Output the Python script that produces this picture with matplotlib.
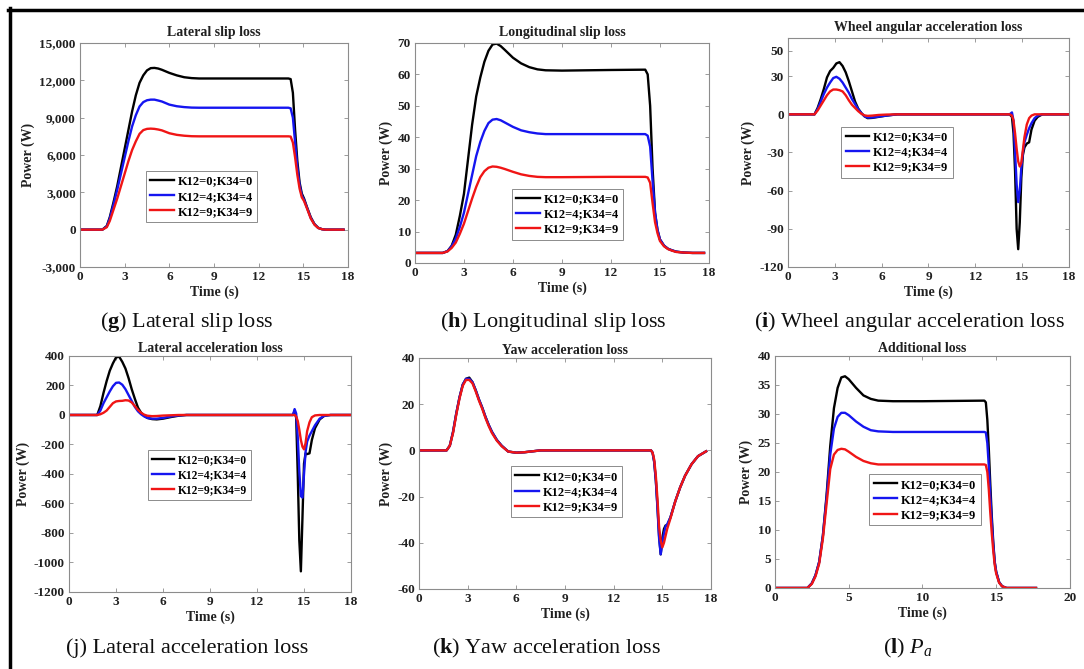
import matplotlib
matplotlib.use("Agg")
import matplotlib.pyplot as plt
from matplotlib.lines import Line2D

# --- fontes ---
plt.rcParams['font.family'] = ['Liberation Serif', 'DejaVu Serif']
plt.rcParams['mathtext.fontset'] = 'custom'
plt.rcParams['mathtext.rm'] = 'Liberation Serif'
plt.rcParams['mathtext.bf'] = 'Liberation Serif:bold'
plt.rcParams['mathtext.it'] = 'Liberation Serif:italic'

legend_labels = ['K12=0;K34=0', 'K12=4;K34=4', 'K12=9;K34=9']
cores = ['#000000', '#1515f0', '#f01515']

# --- (g) Lateral slip loss ---
t_g = [0, 1.5, 1.8, 2.0, 2.25, 2.5, 2.75, 3.0, 3.25, 3.5, 3.75, 4.0, 4.25, 4.5, 4.75, 5.0,
       5.25, 5.5, 6.0, 6.5, 7.0, 7.5, 8.0, 10.0, 12.0, 14.0, 14.15, 14.3, 14.45, 14.6, 14.75,
       14.9, 15.05, 15.25, 15.5, 15.75, 16.0, 16.25, 16.5, 17.0, 17.7]
g_k0 = [0, 0, 300, 1000, 2200, 3500, 5000, 6500, 8000, 9500, 10800, 11800, 12400, 12800, 12980, 13000,
        12950, 12850, 12600, 12400, 12250, 12180, 12150, 12150, 12150, 12150, 12100, 11000, 8000, 5500, 3800,
        2900, 2500, 1800, 1000, 450, 150, 40, 0, 0, 0]
g_k4 = [0, 0, 250, 900, 2000, 3200, 4500, 5800, 7100, 8300, 9200, 9900, 10250, 10400, 10450, 10450,
        10380, 10300, 10050, 9920, 9850, 9810, 9800, 9800, 9800, 9800, 9750, 9000, 7000, 5000, 3600,
        2750, 2400, 1750, 950, 430, 140, 40, 0, 0, 0]
g_k9 = [0, 0, 200, 700, 1600, 2500, 3500, 4500, 5500, 6400, 7100, 7700, 8000, 8100, 8120, 8100,
        8050, 7980, 7750, 7620, 7550, 7510, 7500, 7500, 7500, 7500, 7480, 7000, 5800, 4400, 3300,
        2600, 2300, 1700, 900, 400, 130, 40, 0, 0, 0]

# --- (h) Longitudinal slip loss ---
t_h = [0, 1.7, 2.0, 2.25, 2.5, 2.75, 3.0, 3.25, 3.5, 3.75, 4.0, 4.25, 4.5, 4.75, 5.0, 5.25, 5.5,
       6.0, 6.5, 7.0, 7.5, 8.0, 9.0, 12.0, 14.1, 14.25, 14.4, 14.55, 14.7, 14.85, 15.0, 15.25,
       15.5, 15.75, 16.0, 16.5, 17.0, 17.7]
h_k0 = [3.2, 3.2, 3.8, 5.5, 9, 15, 22, 33, 44, 53, 59, 64, 67.5, 69.5, 69.8, 69, 67.8,
        65.3, 63.5, 62.3, 61.6, 61.3, 61.2, 61.4, 61.5, 60, 50, 30, 16, 10.5, 7.5, 5.5,
        4.5, 4, 3.6, 3.3, 3.2, 3.2]
h_k4 = [3.2, 3.2, 3.8, 5.3, 7.8, 11.5, 16, 22, 28, 34, 38.5, 42, 44.5, 45.6, 45.8, 45.4, 44.7,
        43.3, 42.2, 41.6, 41.2, 41, 41, 41, 41, 40.5, 37, 26, 16, 10.5, 7.5, 5.5,
        4.5, 4, 3.6, 3.3, 3.2, 3.2]
h_k9 = [3.2, 3.2, 3.7, 4.8, 6.5, 9.3, 12.5, 16.5, 20.5, 24.2, 27.3, 29.2, 30.3, 30.7, 30.6, 30.3, 29.9,
        29, 28.2, 27.7, 27.4, 27.3, 27.3, 27.4, 27.4, 27.2, 25.5, 19, 13, 9.5, 7, 5.3,
        4.4, 3.9, 3.5, 3.3, 3.2, 3.2]

# --- (i) Wheel angular acceleration loss ---
t_i = [0, 1.7, 1.9, 2.1, 2.3, 2.5, 2.7, 2.9, 3.1, 3.3, 3.5, 3.7, 3.9, 4.1, 4.3, 4.5, 4.7, 4.9,
       5.1, 5.4, 5.8, 6.3, 7.0, 10, 14.2, 14.35, 14.45, 14.55, 14.65, 14.75, 14.85, 14.95,
       15.05, 15.15, 15.3, 15.45, 15.6, 15.8, 16.0, 16.3, 18]
i_k0 = [0, 0, 5, 12, 20, 29, 34, 36.5, 40, 41, 38, 33, 26, 18, 10, 4.5, 1, -1.5,
        -3, -2.8, -2, -1, 0, 0, 0, -2, -15, -45, -90, -106, -85, -50,
        -32, -26, -23, -22, -12, -5, -2, 0, 0]
i_k4 = [0, 0, 4, 10, 16, 21, 25, 28.5, 29.5, 28, 25, 21, 17, 12, 8, 4, 1, -1.5,
        -2.5, -2.5, -1.8, -1, 0, 0, 0, 1.5, -5, -30, -55, -69, -60, -42,
        -30, -22, -16, -11, -7, -3, -1, 0, 0]
i_k9 = [0, 0, 3, 7, 11, 15, 18, 19.5, 19.5, 19, 18, 15, 11, 7.5, 5, 2.5, 0.5, -0.8,
        -1.2, -1, -0.5, -0.2, 0, 0, 0, -1, -5, -15, -27, -37, -41, -38,
        -28, -18, -8, -3, -1, 0, 0, 0, 0]

# --- (j) Lateral acceleration loss ---
t_j = [0, 1.8, 2.0, 2.2, 2.4, 2.6, 2.8, 3.0, 3.2, 3.4, 3.6, 3.8, 4.0, 4.2, 4.4, 4.6, 4.8, 5.0,
       5.3, 5.6, 6.0, 6.5, 7.0, 7.5, 10, 14.3, 14.4, 14.5, 14.6, 14.7, 14.8, 14.9, 15.0, 15.1,
       15.2, 15.35, 15.5, 15.7, 16.0, 16.3, 16.7, 18]
j_k0 = [0, 0, 60, 150, 230, 300, 350, 390, 395, 360, 315, 250, 175, 110, 50, 15, -5, -20,
        -28, -30, -25, -14, -5, 0, 0, 0, 30, -20, -400, -850, -1060, -700, -330, -260,
        -265, -260, -170, -90, -30, -5, 0, 0]
j_k4 = [0, 0, 30, 80, 120, 160, 195, 218, 220, 205, 175, 135, 95, 55, 25, 5, -10, -20,
        -25, -25, -20, -10, -3, 0, 0, 0, 40, 10, -150, -380, -550, -560, -400, -250,
        -180, -140, -110, -70, -25, -5, 0, 0]
j_k9 = [0, 0, 5, 15, 30, 55, 80, 92, 95, 96, 100, 98, 85, 60, 35, 15, 2, -5,
        -8, -7, -4, -2, 0, 0, 0, 0, 0, -10, -40, -100, -170, -215, -233, -190,
        -110, -50, -15, -3, 0, 0, 0, 0]

# --- (k) Yaw acceleration loss ---
t_k = [0, 1.7, 1.9, 2.1, 2.3, 2.5, 2.7, 2.9, 3.1, 3.3, 3.5, 3.7, 3.9, 4.1, 4.3, 4.5, 4.8, 5.1,
       5.5, 6.0, 6.5, 7.5, 10, 14.3, 14.4, 14.5, 14.6, 14.7, 14.8, 14.9, 15.0, 15.1, 15.2,
       15.3, 15.5, 15.8, 16.1, 16.4, 16.8, 17.2, 17.7]
k_k0 = [0, 0, 2, 8, 16, 23, 28.5, 31, 31.5, 29.5, 26, 22, 18.5, 14.5, 11, 8, 4.5, 2,
        -0.5, -1, -0.8, 0, 0, 0, -1, -5, -13, -24, -37, -45, -38, -34, -32.5,
        -32.5, -29, -22, -16, -11, -6, -2.5, -0.4]
k_k4 = [0, 0, 2, 8, 16, 23, 28.5, 31, 31, 29.5, 26, 22, 18.5, 14.5, 11, 8, 4.5, 2,
        -0.5, -1, -0.8, 0, 0, 0, -1, -5, -13, -25, -38, -45, -40, -36, -33,
        -32, -29, -22, -16, -11, -6, -2.5, -0.4]
k_k9 = [0, 0, 2, 7.5, 15.5, 22.5, 28, 30.5, 30.5, 29, 25.5, 21.5, 18, 14, 10.5, 7.5, 4.2, 1.8,
        -0.5, -1, -0.8, 0, 0, 0, -1, -4, -11, -21, -33, -39, -42, -40, -37,
        -34, -29.5, -22, -16, -11, -6, -2.5, -0.4]

# --- (l) Additional loss ---
t_l = [0, 2.2, 2.5, 2.75, 3.0, 3.25, 3.5, 3.75, 4.0, 4.25, 4.5, 4.75, 5.0, 5.5, 6.0, 6.5, 7.0,
       8.0, 10, 14.2, 14.3, 14.4, 14.5, 14.6, 14.7, 14.8, 14.9, 15.0, 15.2, 15.4, 15.7, 17.7]
l_k0 = [0, 0, 0.8, 2.2, 4.5, 9, 16, 24.5, 31, 34.5, 36.3, 36.5, 36, 34.5, 33.2, 32.6, 32.3,
        32.2, 32.2, 32.3, 32.0, 29, 24, 18, 12.5, 8, 4.5, 2.8, 1, 0.3, 0, 0]
l_k4 = [0, 0, 0.8, 2.2, 4.5, 9, 15.5, 23, 27.5, 29.5, 30.2, 30.2, 29.8, 28.7, 27.8, 27.2, 27.0,
        26.9, 26.9, 26.9, 26.8, 25, 21, 16, 11.5, 7.5, 4.5, 2.8, 1, 0.3, 0, 0]
l_k9 = [0, 0, 0.7, 2.0, 4.2, 8.5, 14.5, 20.5, 23, 23.8, 24, 23.9, 23.5, 22.6, 21.9, 21.5, 21.3,
        21.3, 21.3, 21.3, 21.2, 20, 17, 13, 9.5, 6.5, 4, 2.5, 0.9, 0.3, 0, 0]

# --- eixos (ticks e rótulos) ---
x_ticks_18 = [0, 3, 6, 9, 12, 15, 18]
x_ticks_20 = [0, 5, 10, 15, 20]
g_yticks = [-3000, 0, 3000, 6000, 9000, 12000, 15000]
g_ylabels = ['-3,000', '0', '3,000', '6,000', '9,000', '12,000', '15,000']
h_yticks = [0, 10, 20, 30, 40, 50, 60, 70]
i_yticks = [-120, -90, -60, -30, 0, 30, 50]
j_yticks = [-1200, -1000, -800, -600, -400, -200, 0, 200, 400]
k_yticks = [-60, -40, -20, 0, 20, 40]
l_yticks = [0, 5, 10, 15, 20, 25, 30, 35, 40]


def painel(fig, rect, t, series, titulo, xlim, ylim, xt, yt, ylab, leg_pos, title_pad=5, leg_size=9):
    ax = fig.add_axes(rect)
    for y, c, lab in zip(series, cores, legend_labels):
        ax.plot(t, y, color=c, lw=1.7, label=lab)
    ax.set_xlim(*xlim)
    ax.set_ylim(*ylim)
    ax.set_xticks(xt)
    ax.set_yticks(yt)
    ax.set_xticklabels([str(v) for v in xt])
    if ylab is None:
        ylab = [str(v) for v in yt]
    ax.set_yticklabels(ylab)
    for s in ax.spines.values():
        s.set_color('#8c8c8c')
        s.set_linewidth(0.8)
    ax.tick_params(direction='in', top=True, right=True, length=3, width=0.6,
                   color='#8c8c8c', labelsize=9.5, pad=3, labelcolor='#202020')
    for lb in ax.get_xticklabels() + ax.get_yticklabels():
        lb.set_fontweight('bold')
    ax.set_title(titulo, fontsize=10, fontweight='bold', pad=title_pad, color='#202020')
    ax.set_xlabel('Time (s)', fontsize=10, fontweight='bold', labelpad=2, color='#202020')
    ax.set_ylabel('Power (W)', fontsize=10, fontweight='bold', labelpad=3, color='#202020')
    leg = ax.legend(loc='lower left', bbox_to_anchor=leg_pos, borderaxespad=0,
                    prop={'weight': 'bold', 'size': leg_size}, fancybox=False, framealpha=1,
                    edgecolor='#8c8c8c', handlelength=1.9, handletextpad=0.3,
                    labelspacing=0.25, borderpad=0.35)
    leg.get_frame().set_linewidth(0.7)
    return ax


fig = plt.figure(figsize=(10.84, 6.69), dpi=100)

painel(fig, [0.0738, 0.6009, 0.2472, 0.3348], t_g, [g_k0, g_k4, g_k9], 'Lateral slip loss',
       (0, 18), (-3000, 15000), x_ticks_18, g_yticks, g_ylabels, (0.246, 0.2))
painel(fig, [0.3828, 0.6069, 0.2712, 0.3289], t_h, [h_k0, h_k4, h_k9], 'Longitudinal slip loss',
       (0, 18), (0, 70), x_ticks_18, h_yticks, None, (0.33, 0.105))
painel(fig, [0.7269, 0.6009, 0.2592, 0.3423], t_i, [i_k0, i_k4, i_k9], 'Wheel angular acceleration loss',
       (0, 18), (-120, 60), x_ticks_18, i_yticks, None, (0.19, 0.39))
painel(fig, [0.0637, 0.1151, 0.2601, 0.3528], t_j, [j_k0, j_k4, j_k9], 'Lateral acceleration loss',
       (0, 18), (-1200, 400), x_ticks_18, j_yticks, None, (0.28, 0.39), title_pad=3, leg_size=8.3)
painel(fig, [0.3865, 0.1196, 0.2694, 0.3453], t_k, [k_k0, k_k4, k_k9], 'Yaw acceleration loss',
       (0, 18), (-60, 40), x_ticks_18, k_yticks, None, (0.315, 0.31), title_pad=3)
painel(fig, [0.7149, 0.1211, 0.2721, 0.3468], t_l, [l_k0, l_k4, l_k9], 'Additional loss',
       (0, 20), (0, 40), x_ticks_20, l_yticks, None, (0.32, 0.27), title_pad=3)

# --- legendas das figuras (captions) ---
captions = [r'($\mathbf{g}$) Lateral slip loss', r'($\mathbf{h}$) Longitudinal slip loss',
            r'($\mathbf{i}$) Wheel angular acceleration loss', r'(j) Lateral acceleration loss',
            r'($\mathbf{k}$) Yaw acceleration loss', r'($\mathbf{l}$) $P_a$']
cap_x = [0.1725, 0.5101, 0.8395, 0.1725, 0.5046, 0.8376]
cap_y = [0.5187, 0.5187, 0.5187, 0.0314, 0.0314, 0.0314]
for txt, cx, cy in zip(captions, cap_x, cap_y):
    fig.text(cx, cy, txt, ha='center', va='center', fontsize=16, color='#101010')

# moldura (só esquerda e topo)
fig.add_artist(Line2D([9.5 / 1084, 9.5 / 1084], [0, 1 - 8 / 669], color='black', lw=2.5,
                      transform=fig.transFigure))
fig.add_artist(Line2D([8 / 1084, 1], [1 - 9.5 / 669, 1 - 9.5 / 669], color='black', lw=2.5,
                      transform=fig.transFigure))

fig.savefig('out.png', dpi=100)
